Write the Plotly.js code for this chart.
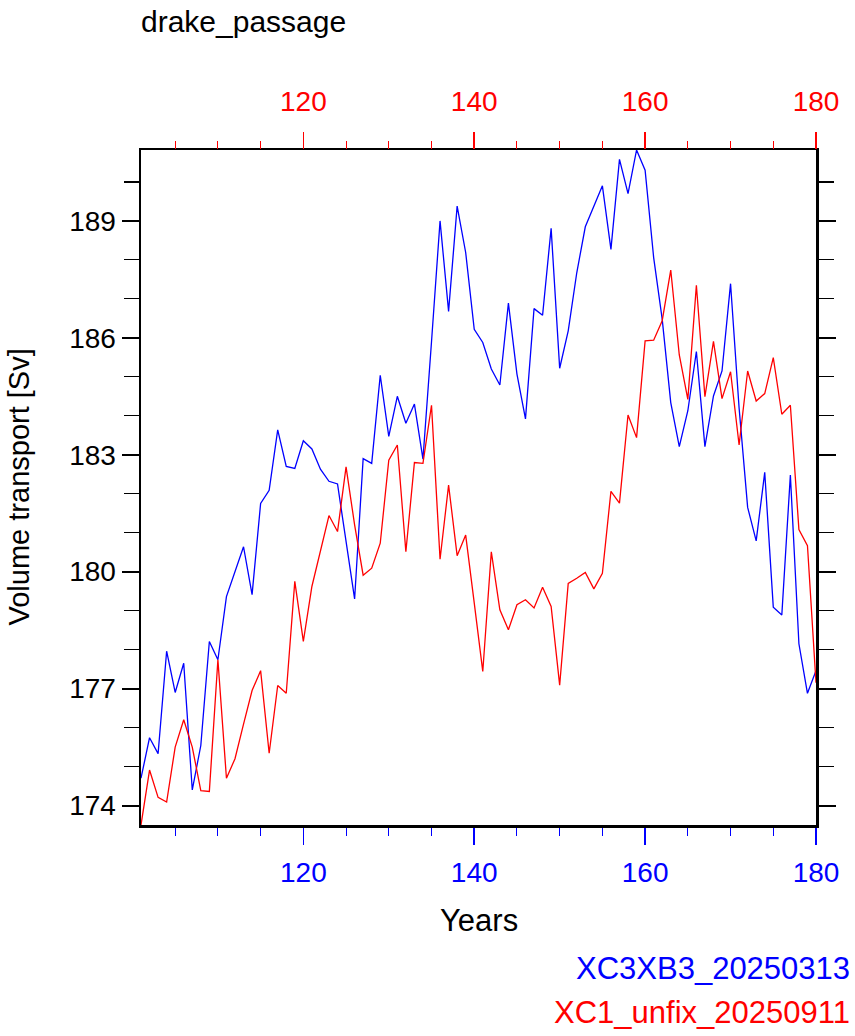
<!DOCTYPE html>
<html>
<head>
<meta charset="utf-8">
<script src="https://cdn.plot.ly/plotly-3.0.1.min.js"></script>
<style>
  html, body { margin: 0; padding: 0; background: #ffffff; }
  #chart { width: 855px; height: 1036px; }
</style>
</head>
<body>
<div id="chart"></div>
<script>
// Annual-mean Drake Passage volume transport (Sv), model years 101-180
const years = [];
for (let y = 101; y <= 180; y++) years.push(y);

const transportXC3XB3 = [
  174.70, 175.74, 175.33, 177.96, 176.90, 177.65, 174.40, 175.54, 178.21, 177.74,
  179.36, 180.03, 180.64, 179.41, 181.75, 182.09, 183.64, 182.70, 182.65, 183.36,
  183.15, 182.63, 182.32, 182.25, 180.80, 179.30, 182.90, 182.78, 185.04, 183.47,
  184.50, 183.81, 184.30, 182.89, 185.90, 189.00, 186.68, 189.38, 188.19, 186.22,
  185.88, 185.20, 184.79, 186.89, 185.07, 183.92, 186.75, 186.58, 188.81, 185.22,
  186.18, 187.67, 188.85, 189.38, 189.90, 188.27, 190.58, 189.70, 190.82, 190.30,
  188.06, 186.48, 184.34, 183.21, 184.13, 185.65, 183.21, 184.51, 185.15, 187.39,
  184.20, 181.65, 180.79, 182.55, 179.09, 178.89, 182.48, 178.15, 176.88, 177.46
];

const transportXC1unfix = [
  173.50, 174.91, 174.21, 174.09, 175.50, 176.20, 175.50, 174.38, 174.36, 177.74,
  174.70, 175.20, 176.09, 176.95, 177.46, 175.34, 177.08, 176.88, 179.75, 178.21,
  179.62, 180.54, 181.44, 181.03, 182.69, 181.20, 179.91, 180.09, 180.73, 182.86,
  183.25, 180.51, 182.80, 182.78, 184.27, 180.32, 182.22, 180.41, 180.94, 179.20,
  177.44, 180.51, 179.02, 178.51, 179.15, 179.28, 179.07, 179.60, 179.11, 177.09,
  179.70, 179.83, 179.98, 179.56, 179.96, 182.06, 181.76, 184.02, 183.44, 185.92,
  185.94, 186.44, 187.74, 185.56, 184.42, 187.35, 184.49, 185.91, 184.44, 185.13,
  183.25, 185.15, 184.38, 184.57, 185.49, 184.04, 184.27, 181.08, 180.67, 177.15
];

const caseNames = ["XC3XB3_20250313", "XC1_unfix_20250911"];
const caseColors = ["#0000ff", "#ff0000"];
const plotTitle = "drake_passage";
const xTitle = "Years";
const yTitle = "Volume transport [Sv]";

// y range spans the data exactly
const allVals = transportXC3XB3.concat(transportXC1unfix);
const yMin = Math.min.apply(null, allVals);
const yMax = Math.max.apply(null, allVals);
const xRange = [years[0], years[years.length - 1]];

const FONT = "Liberation Sans, Arial, Helvetica, sans-serif";
const TICK_SIZE = 28;

const traces = [
  {
    x: years, y: transportXC3XB3, type: "scatter", mode: "lines",
    name: caseNames[0], line: { color: caseColors[0], width: 1.3 },
    xaxis: "x", yaxis: "y", hoverinfo: "x+y"
  },
  {
    x: years, y: transportXC1unfix, type: "scatter", mode: "lines",
    name: caseNames[1], line: { color: caseColors[1], width: 1.3 },
    xaxis: "x2", yaxis: "y", hoverinfo: "x+y"
  }
];

// plot box in pixels: left 141, right 816, top 150, bottom 825
const L = 141, R = 816, T = 150, B = 825;
const W = R - L, H = B - T;
const px = (p) => (p - L) / W;
const py = (p) => (B - p) / H;

const commonX = {
  range: xRange,
  tickmode: "linear", tick0: 0, dtick: 20,
  ticks: "outside", ticklen: 17, tickwidth: 1.5,
  showgrid: false, zeroline: false,
  fixedrange: true
};

const layout = {
  width: 855, height: 1036,
  margin: { l: L, r: 855 - R, t: T, b: 1036 - B, pad: 0 },
  paper_bgcolor: "#ffffff", plot_bgcolor: "#ffffff",
  showlegend: false,
  xaxis: Object.assign({}, commonX, {
    side: "bottom", anchor: "y",
    tickcolor: caseColors[0],
    tickfont: { family: FONT, size: TICK_SIZE, color: caseColors[0] },
    ticklabelstandoff: 4,
    showline: true, linecolor: "#000000", linewidth: 2.5, mirror: true,
    minor: { dtick: 5, ticks: "outside", ticklen: 8, tickwidth: 1, tickcolor: caseColors[0], showgrid: false }
  }),
  xaxis2: Object.assign({}, commonX, {
    side: "top", overlaying: "x", anchor: "y",
    tickcolor: caseColors[1],
    tickfont: { family: FONT, size: TICK_SIZE, color: caseColors[1] },
    ticklabelstandoff: 10,
    showline: false,
    minor: { dtick: 5, ticks: "outside", ticklen: 8, tickwidth: 1, tickcolor: caseColors[1], showgrid: false }
  }),
  yaxis: {
    range: [yMin, yMax],
    tickmode: "linear", tick0: 0, dtick: 3,
    ticks: "outside", ticklen: 17, tickwidth: 2, tickcolor: "#000000",
    tickfont: { family: FONT, size: TICK_SIZE, color: "#000000" },
    showline: true, linecolor: "#000000", linewidth: 2.5, mirror: "ticks",
    showgrid: false, zeroline: false, fixedrange: true,
    minor: { dtick: 1, ticks: "outside", ticklen: 15, tickwidth: 1.2, tickcolor: "#000000", showgrid: false }
  },
  annotations: [
    { text: plotTitle, xref: "paper", yref: "paper", x: px(139), y: py(21),
      xanchor: "left", yanchor: "middle", showarrow: false,
      font: { family: FONT, size: 30, color: "#000000" } },
    { text: xTitle, xref: "paper", yref: "paper", x: 0.5, y: py(920),
      xanchor: "center", yanchor: "middle", showarrow: false,
      font: { family: FONT, size: 31, color: "#000000" } },
    { text: yTitle, xref: "paper", yref: "paper", x: px(18), y: 0.5, textangle: -90,
      xanchor: "center", yanchor: "middle", showarrow: false,
      font: { family: FONT, size: 29, color: "#000000" } },
    { text: caseNames[0], xref: "paper", yref: "paper", x: px(852), y: py(968),
      xanchor: "right", yanchor: "middle", showarrow: false,
      font: { family: FONT, size: 31, color: caseColors[0] } },
    { text: caseNames[1], xref: "paper", yref: "paper", x: px(852), y: py(1012),
      xanchor: "right", yanchor: "middle", showarrow: false,
      font: { family: FONT, size: 31, color: caseColors[1] } }
  ]
};

Plotly.newPlot("chart", traces, layout, { displayModeBar: false, staticPlot: true });
</script>
</body>
</html>
